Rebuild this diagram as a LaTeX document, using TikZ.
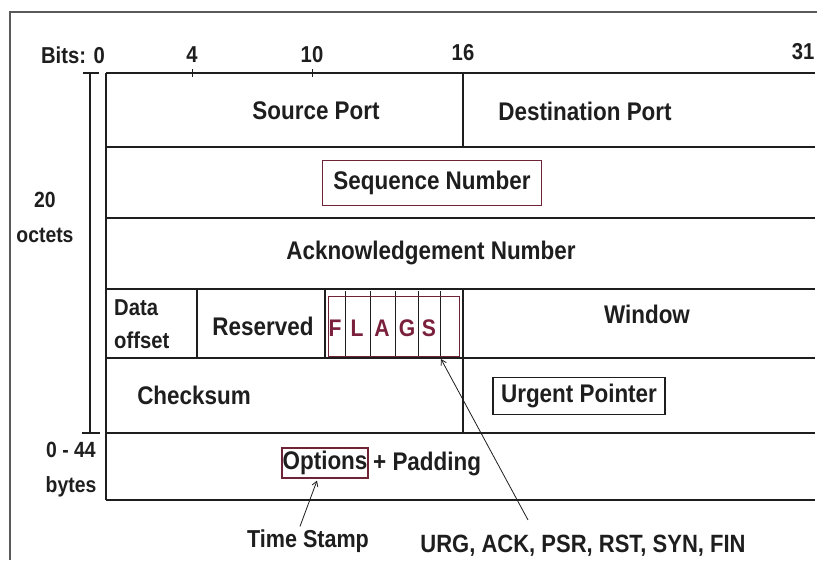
\documentclass[tikz,border=0pt]{standalone}
\usepackage{fontspec}
\setmainfont{Liberation Sans}[FakeStretch=0.88]
\usetikzlibrary{arrows.meta}
\definecolor{ln}{HTML}{1E1E1E}
\definecolor{frm}{HTML}{5A5A5A}
\definecolor{mar}{HTML}{6E2436}
\definecolor{flg}{HTML}{7A1F3C}
\tikzset{
  txt/.style={font=\bfseries\fontsize{25.5}{28}\selectfont, inner sep=0pt, text=ln},
  hdr/.style={font=\bfseries\fontsize{23}{26}\selectfont, inner sep=0pt, text=ln},
  side/.style={font=\bfseries\fontsize{22}{35}\selectfont, inner sep=0pt, text=ln, align=center},
  flag/.style={font=\bfseries\fontsize{24}{26}\selectfont, inner sep=0pt, text=flg},
  fieldbox/.style={txt, draw=mar, line width=1.2pt, inner sep=0pt},
  rule/.style={draw=ln, line width=1.3pt},
  thin/.style={draw=ln, line width=0.9pt},
  pointer/.style={draw=ln, line width=0.8pt, -{Straight Barb[length=5pt,width=6pt]}}
}
\begin{document}
\begin{tikzpicture}[x=1pt,y=-1pt]
\useasboundingbox (0,0) rectangle (817,560);
\fill[white] (0,0) rectangle (817,560);
% outer frame
\draw[frm, line width=1.5pt] (10,560) -- (10,12) -- (817,12);
% table rows
\foreach \yy in {73,147,218,289,358,433,500}
  \draw[rule] (106,\yy) -- (815,\yy);
\draw[rule] (106,73) -- (106,500);
% bit ticks
\draw[thin] (192,69) -- (192,77);
\draw[thin] (312,69) -- (312,77);
% row dividers
\draw[rule] (463,73) -- (463,147);
\draw[rule] (197,289) -- (197,358);
\draw[rule] (325,289) -- (325,358);
\draw[rule] (463,289) -- (463,358);
\foreach \xx in {345,370,395,418,440}
  \draw[thin] (\xx,291) -- (\xx,358);
\draw[draw=mar, line width=0.7pt] (328,296) rectangle (459,356);
\draw[rule] (463,358) -- (463,433);
% left bracket
\draw[rule] (90,73) -- (90,433);
\draw[rule] (83,73) -- (99,73);
\draw[rule] (82,433) -- (100,433);

% header
\node[hdr] (bits) at (73,55) {Bits: 0};
\node[hdr] (b4) at (192,55) {4};
\node[hdr] (b10) at (312,55) {10};
\node[hdr] (b16) at (463,53) {16};
\node[hdr] (b31) at (803,52) {31};

% fields
\node[txt] (src) at (316,111) {Source Port};
\node[txt] (dst) at (585,111) {Destination Port};
\node[fieldbox, minimum width=219pt, minimum height=45pt] (seq) at (432,183) {Sequence Number};
\node[txt] (ack) at (431,253) {Acknowledgement Number};
\node[txt, align=left, anchor=west, font=\bfseries\fontsize{23}{33}\selectfont] (doff) at (114,324) {Data\\offset};
\node[txt] (res) at (263,326) {Reserved};
\node[flag] (fF) at (335,328) {F};
\node[flag] (fL) at (357,328) {L};
\node[flag] (fA) at (382,328) {A};
\node[flag] (fG) at (407,328) {G};
\node[flag] (fS) at (429,328) {S};
\node[txt] (win) at (647,314) {Window};
\node[txt] (chk) at (194,395) {Checksum};
\node[fieldbox, draw=ln, minimum width=172pt, minimum height=37pt] (urgp) at (579,396) {Urgent Pointer};
\node[fieldbox, minimum width=86pt, minimum height=30pt] (opt) at (325,463) {Options};
\node[txt, anchor=west] (pad) at (373,464) {+ Padding};

% side labels
\node[side] (oct) at (45,217) {20\\octets};
\node[side] (byt) at (71,470) {0 - 44\\bytes};

% bottom labels
\node[txt, font=\bfseries\fontsize{24.5}{28}\selectfont] (ts) at (308,541) {Time Stamp};
\node[txt, font=\bfseries\fontsize{25}{28}\selectfont] (urg) at (583,546) {URG, ACK, PSR, RST, SYN, FIN};

% pointers
\draw[pointer] ([xshift=-8pt,yshift=3pt]ts.north) -- ([xshift=-8pt,yshift=-2pt]opt.south);
\coordinate (sflag) at (441,359);
\coordinate (urgtip) at (528,520);
\draw[pointer] (urgtip) -- (sflag);
\end{tikzpicture}
\end{document}
